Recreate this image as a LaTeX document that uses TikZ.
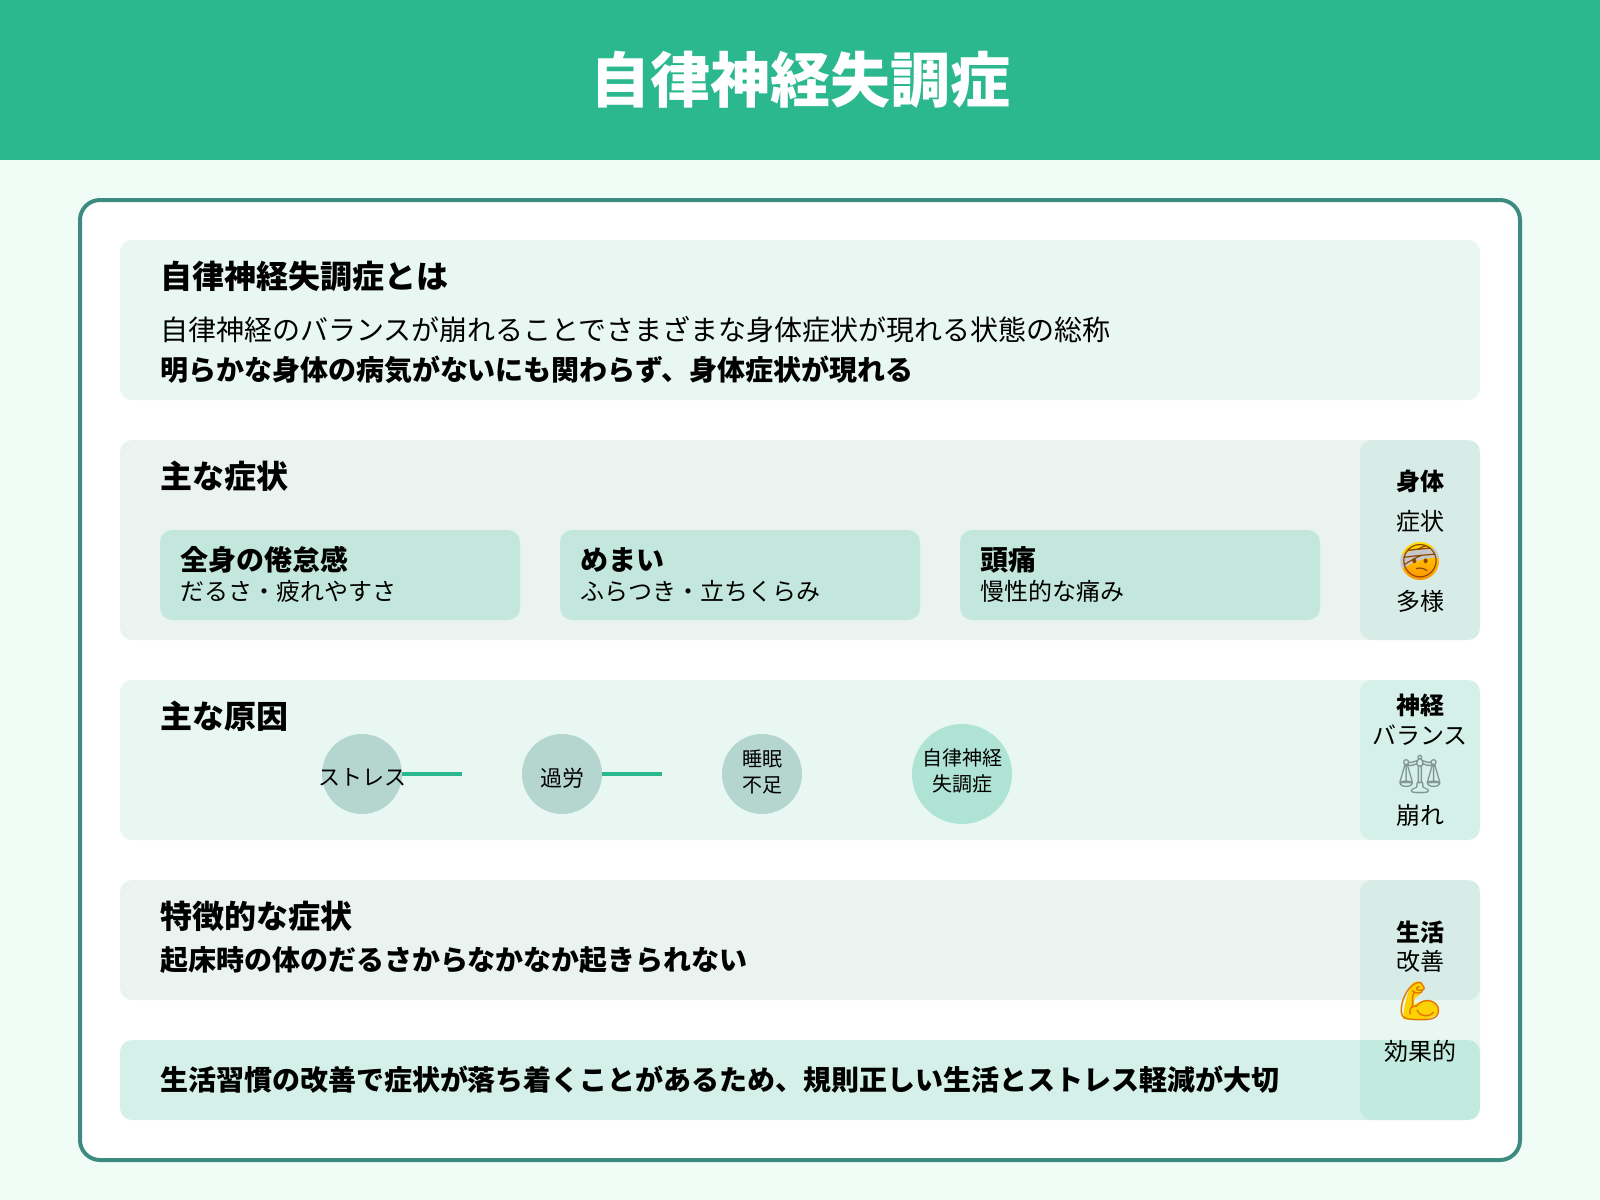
\documentclass[tikz,border=0pt]{standalone}
\usepackage{fontspec}
\setmainfont{Noto Sans CJK JP}
\newfontfamily\emojifont{Noto Emoji}
\usetikzlibrary{shadings}
\definecolor{mint}{HTML}{2BB88F}
\definecolor{teal}{HTML}{3D8B7E}
\definecolor{pagebg}{HTML}{F0FDF6}
\newcommand{\px}[1]{\fontsize{\fpeval{#1*0.75}pt}{\fpeval{#1*0.9}pt}\selectfont}
\tikzset{
  x=0.75pt,y=-0.75pt,
  band/.style={rounded corners=9pt,opacity=#1},
  lab/.style={inner sep=0pt,outer sep=0pt,anchor=west,execute at begin node=\vphantom{国}},
  mid/.style={inner sep=0pt,outer sep=0pt,anchor=center,execute at begin node=\vphantom{国}},
  emo/.style={inner sep=0pt,outer sep=0pt,anchor=center},
  h32/.style={font=\bfseries\px{32}},
  b28/.style={font=\bfseries\px{28}},
  r28/.style={font=\px{28}},
  r24/.style={font=\px{24}},
  bs24/.style={font=\bfseries\px{24}},
  disc/.style={circle,draw=none,inner sep=0pt,minimum size=#1*0.75pt},
  link/.style={draw=mint,line width=3pt},
}
\begin{document}
\begin{tikzpicture}
\useasboundingbox (0,0) rectangle (1600,1200);
\fill[pagebg] (0,0) rectangle (1600,1200);
\fill[mint] (0,0) rectangle (1600,160);
\node[mid,font=\bfseries\px{60},text=white] (title) at (800,80) {自律神経失調症};
\filldraw[fill=white,draw=teal,line width=3pt,rounded corners=15pt] (80,200) rectangle (1520,1160);
% bands
\fill[mint,band=.1] (120,240) rectangle (1480,400);
\fill[teal,band=.1] (120,440) rectangle (1480,640);
\fill[mint,band=.1] (120,680) rectangle (1480,840);
\fill[teal,band=.1] (120,880) rectangle (1480,1000);
\fill[mint,band=.2] (120,1040) rectangle (1480,1120);
% side panels
\fill[mint,band=.1] (1360,440) rectangle (1480,640);
\fill[mint,band=.1] (1360,680) rectangle (1480,840);
\fill[mint,band=.1] (1360,880) rectangle (1480,1120);
% section 1
\node[lab,h32] (t1) at (160,276) {自律神経失調症とは};
\node[lab,r28] (t1a) at (160,330) {自律神経のバランスが崩れることでさまざまな身体症状が現れる状態の総称};
\node[lab,b28] (t1b) at (160,370) {明らかな身体の病気がないにも関わらず、身体症状が現れる};
% section 2
\node[lab,h32] (t2) at (160,476) {主な症状};
\fill[mint,band=.2] (160,530) rectangle (520,620);
\fill[mint,band=.2] (560,530) rectangle (920,620);
\fill[mint,band=.2] (960,530) rectangle (1320,620);
\node[lab,b28] (c1) at (180,560) {全身の倦怠感};
\node[lab,r24] (c1s) at (180,591) {だるさ・疲れやすさ};
\node[lab,b28] (c2) at (580,560) {めまい};
\node[lab,r24] (c2s) at (580,591) {ふらつき・立ちくらみ};
\node[lab,b28] (c3) at (980,560) {頭痛};
\node[lab,r24] (c3s) at (980,591) {慢性的な痛み};
% side 1
\node[mid,bs24] (s1a) at (1420,481) {身体};
\node[mid,r24] (s1b) at (1420,521) {症状};
\shade[top color=yellow!75!orange,bottom color=orange!85!yellow] (1420,561) circle[radius=19];
\fill[black!22] (1401,556) .. controls (1410,550) and (1425,546) .. (1435,549) .. controls (1438,553) and (1439,556) .. (1439,558) .. controls (1428,556) and (1412,562) .. (1402,569) .. controls (1400,564) and (1400,560) .. (1401,556);
\node[emo,font=\emojifont\px{33},text=orange!55!black] (e1) at (1420,561) {🤕};
\node[mid,r24] (s1c) at (1420,601) {多様};
% section 3
\node[lab,h32] (t3) at (160,716) {主な原因};
\node[disc=80,fill=teal,fill opacity=.3] (k1) at (362,774) {};
\node[disc=80,fill=teal,fill opacity=.3] (k2) at (562,774) {};
\node[disc=80,fill=teal,fill opacity=.3] (k3) at (762,774) {};
\node[disc=100,fill=mint,fill opacity=.3] (k4) at (962,774) {};
\coordinate (e1a) at (462,774);
\coordinate (e2a) at (662,774);
\draw[link] (k1.east) -- (e1a);
\draw[link] (k2.east) -- (e2a);
\node[mid,font=\px{22}] (k1t) at (362,778) {ストレス};
\node[mid,font=\px{22}] (k2t) at (562,778) {過労};
\node[inner sep=0pt,align=center,font=\fontsize{15pt}{19pt}\selectfont] (k3t) at (762,772) {睡眠\\不足};
\node[inner sep=0pt,align=center,font=\fontsize{15pt}{19pt}\selectfont] (k4t) at (962,771) {自律神経\\失調症};
% side 2
\node[mid,bs24] (s2a) at (1420,705) {神経};
\node[mid,r24] (s2b) at (1420,736) {バランス};
\node[emo,font=\emojifont\px{38},text=teal!30!gray!85] (e2) at (1420,775) {⚖};
\node[mid,r24] (s2c) at (1420,815) {崩れ};
% section 4
\node[lab,h32] (t4) at (160,916) {特徴的な症状};
\node[lab,b28] (t4a) at (160,960) {起床時の体のだるさからなかなか起きられない};
% section 5
\node[lab,b28] (t5) at (160,1080) {生活習慣の改善で症状が落ち着くことがあるため、規則正しい生活とストレス軽減が大切};
% side 3
\node[mid,bs24] (s3a) at (1420,932) {生活};
\node[mid,r24] (s3b) at (1420,961) {改善};
\fill[yellow!70!orange] (1403,1019) .. controls (1404,1005) and (1407,995) .. (1411,985) .. controls (1414,980) and (1422,980) .. (1423,987) .. controls (1424,993) and (1418,996) .. (1415,998) .. controls (1414,1000) and (1414,1003) .. (1414,1005) .. controls (1422,998) and (1438,1000) .. (1439,1010) .. controls (1438,1019) and (1420,1021) .. (1403,1019);
\node[emo,font=\emojifont\px{38},text=orange!90!black] (e3) at (1420,1001) {💪};
\node[mid,r24] (s3c) at (1420,1051) {効果的};
\end{tikzpicture}
\end{document}
